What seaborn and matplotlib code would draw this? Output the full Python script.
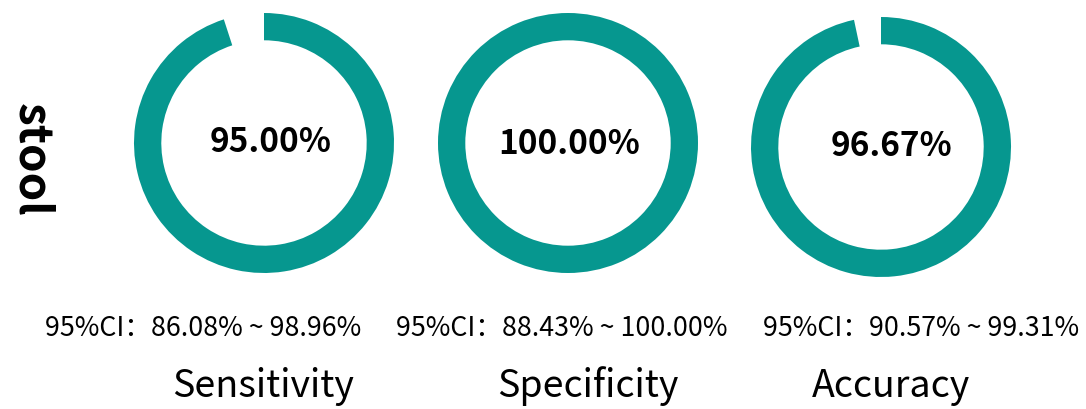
import matplotlib
matplotlib.use("Agg")
import matplotlib.pyplot as plt
import seaborn as sns

sns.set_style("white")
plt.rcParams["font.family"] = ["Noto Sans CJK SC", "DejaVu Sans"]

# data
metrics = ["Sensitivity", "Specificity", "Accuracy"]
values = [95.00, 100.00, 96.67]
ci_low = [86.08, 88.43, 90.57]
ci_high = [98.96, 100.00, 99.31]
sample_label = "stool"

ring_color = "#06978f"

W, H = 1086, 409
fig = plt.figure(figsize=(W / 100, H / 100), dpi=100)

# ring centers (pixels) and radius
centers = [(264, 143), (568, 143), (881, 147)]
value_pos = [(271, 143), (569, 144), (891, 147)]
ci_pos = [(203, 328), (562, 328), (921, 328)]
label_pos = [(263, 386), (588, 386), (891, 386)]
R = 130

for i, m in enumerate(metrics):
    cx, cy = centers[i]
    ax = fig.add_axes([(cx - R) / W, (H - cy - R) / H, 2 * R / W, 2 * R / H])
    v = values[i]
    sizes = [v, 100 - v] if v < 100 else [v]
    cols = [ring_color, "none"] if v < 100 else [ring_color]
    ax.pie(sizes, colors=cols, startangle=90, counterclock=False, radius=1,
           wedgeprops=dict(width=0.21, edgecolor="none", linewidth=0))
    ax.set_xlim(-1, 1)
    ax.set_ylim(-1, 1)
    ax.set_aspect("equal")
    ax.axis("off")

    vx, vy = value_pos[i]
    fig.text(vx / W, 1 - vy / H, f"{v:.2f}%", ha="center", va="center",
             fontsize=24, fontweight="bold", color="black")
    px, py = ci_pos[i]
    fig.text(px / W, 1 - py / H, f"95%CI：{ci_low[i]:.2f}% ~ {ci_high[i]:.2f}%",
             ha="center", va="center", fontsize=19.3, color="black")
    lx, ly = label_pos[i]
    fig.text(lx / W, 1 - ly / H, m, ha="center", va="center", fontsize=27, color="black")

fig.text(31 / W, 1 - 160 / H, sample_label, rotation=-90, ha="center", va="center",
         fontsize=33, fontweight="bold", color="black")

fig.savefig("out.png", dpi=100)
